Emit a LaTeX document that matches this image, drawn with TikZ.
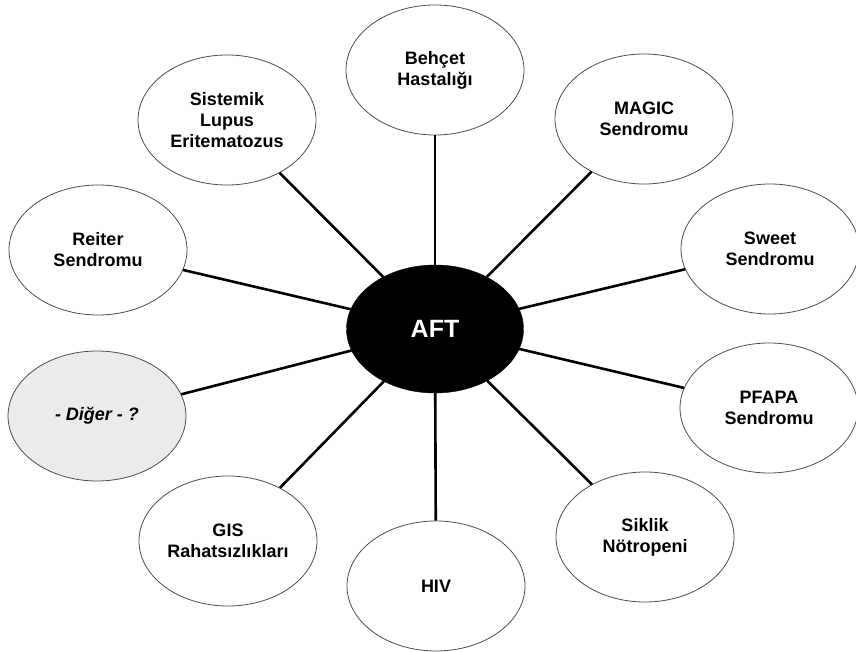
\documentclass[tikz,border=0pt]{standalone}
\usepackage{fontspec}
\setmainfont{Liberation Sans}
\usetikzlibrary{shapes.geometric}
\begin{document}
\begin{tikzpicture}[x=1pt,y=-1pt,
  oval/.style={ellipse, draw=black!70, line width=0.8pt, fill=white,
    minimum width=178pt, minimum height=130pt, inner sep=0pt, align=center,
    font=\bfseries\fontsize{18}{21}\selectfont},
  hub/.style={ellipse, fill=black, draw=black, minimum width=177pt, minimum height=128pt,
    inner sep=0pt, text=white, font=\bfseries\fontsize{25}{28}\selectfont},
  conn/.style={line width=2.6pt, black}]
\useasboundingbox (0,0) rectangle (856,652);
\fill[white] (0,0) rectangle (856,652);
\node[hub] (aft) at (435,329) {AFT};
\node[oval] (beh) at (435,70) {Behçet\\Hastalığı};
\node[oval] (mag) at (644,119) {MAGIC\\Sendromu};
\node[oval] (swe) at (770,249) {Sweet\\Sendromu};
\node[oval] (pfa) at (769,408) {PFAPA\\Sendromu};
\node[oval] (sik) at (645,537) {Siklik\\Nötropeni};
\node[oval] (hiv) at (436,586) {HIV};
\node[oval] (gis) at (228,541) {GIS\\Rahatsızlıkları};
\node[oval, fill=black!8, font=\bfseries\itshape\fontsize{18}{21}\selectfont] (dig) at (97,416) {- Diğer - ?};
\node[oval] (rei) at (98,250) {Reiter\\Sendromu};
\node[oval] (lup) at (227,120) {Sistemik\\Lupus\\Eritematozus};
\foreach \n in {beh,mag,swe,pfa,sik,hiv,gis,dig,rei,lup}
  \draw[conn] (aft) -- (\n);
\end{tikzpicture}
\end{document}
